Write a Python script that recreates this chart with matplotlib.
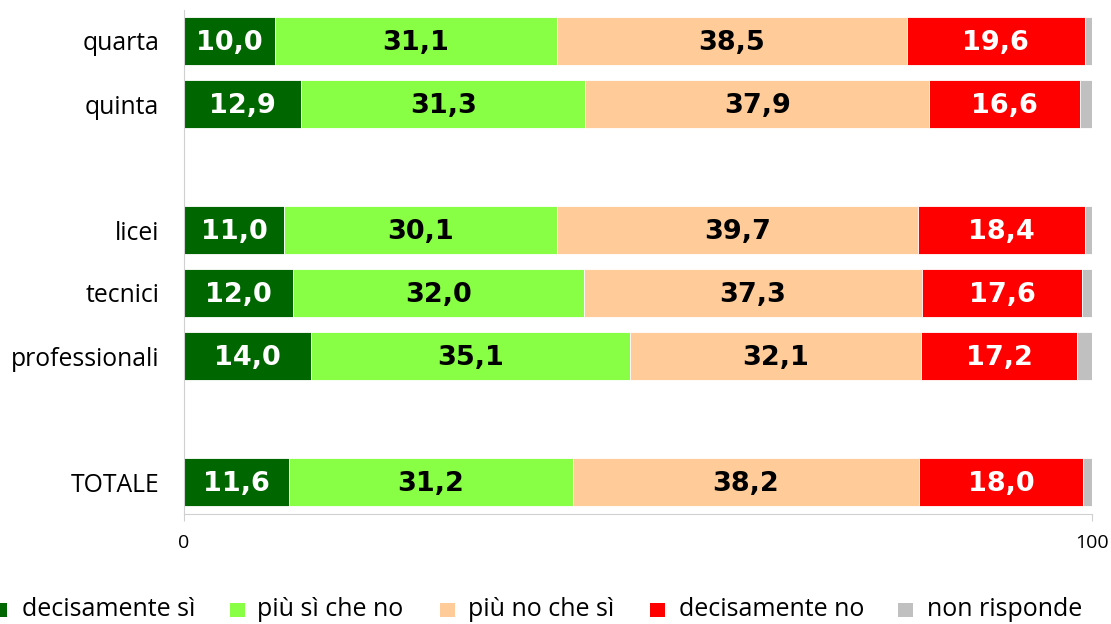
import matplotlib
matplotlib.use("Agg")
import matplotlib.pyplot as plt
from matplotlib.patches import Rectangle
from matplotlib.transforms import offset_copy

categories = ["quarta", "quinta", "", "licei", "tecnici", "professionali", "", "TOTALE"]
decisamente_si = [10.0, 12.9, None, 11.0, 12.0, 14.0, None, 11.6]
piu_si = [31.1, 31.3, None, 30.1, 32.0, 35.1, None, 31.2]
piu_no = [38.5, 37.9, None, 39.7, 37.3, 32.1, None, 38.2]
decisamente_no = [19.6, 16.6, None, 18.4, 17.6, 17.2, None, 18.0]
non_risponde = [0.8, 1.3, None, 0.8, 1.1, 1.6, None, 1.0]

series_names = ["decisamente sì", "più sì che no", "più no che sì", "decisamente no", "non risponde"]
series = [decisamente_si, piu_si, piu_no, decisamente_no, non_risponde]
colors = ["#006600", "#88FF44", "#FFCC99", "#FF0000", "#C0C0C0"]
label_colors = ["white", "black", "black", "white", None]
x_ticks = [0, 100]

plt.rcParams['font.family'] = ['Open Sans', 'DejaVu Sans']
W, H = 1111, 624
fig = plt.figure(figsize=(W/100, H/100), dpi=100)
ax = fig.add_axes([184/W, 1-513.5/H, (1092-184)/W, (513.5-9.5)/H])
label_tr = offset_copy(ax.transData, fig=fig, x=0, y=-1.5, units="points")

for i, cat in enumerate(categories):
    if series[0][i] is None:
        continue
    left = 0
    for s, (vals, col, lc) in enumerate(zip(series, colors, label_colors)):
        v = vals[i]
        ax.barh(i, v, left=left, height=0.76, color=col, edgecolor="white", linewidth=0.6)
        if lc is not None:
            ax.text(left + v/2, i, f"{v:.1f}".replace(".", ","), ha="center", va="center",
                    color=lc, fontsize=19.5, fontweight="bold", family="DejaVu Sans",
                    transform=label_tr)
        left += v

ax.set_xlim(0, 100)
ax.set_ylim(7.5, -0.5)
ax.set_yticks([i for i, c in enumerate(categories) if c])
ax.set_yticklabels([c for c in categories if c], fontsize=17.8)
ax.set_xticks(x_ticks)
ax.set_xticklabels([str(t) for t in x_ticks], fontsize=14)
ax.tick_params(axis="y", length=0, pad=18)
ax.tick_params(axis="x", length=5, color="#D0D0D0", pad=10)
for sp in ["top", "right"]:
    ax.spines[sp].set_visible(False)
ax.spines["left"].set_color("#D0D0D0")
ax.spines["bottom"].set_color("#D0D0D0")

# legend drawn manually to match spacing
marker_x = [-8, 230, 440, 650, 898]
text_x = [22, 257, 468, 679, 927]
ly = 609.5
for mx, tx, c, name in zip(marker_x, text_x, colors, series_names):
    fig.patches.append(Rectangle((mx/W, 1-(ly+7)/H), 15/W, 14/H, transform=fig.transFigure,
                                 facecolor=c, edgecolor="none"))
    fig.text(tx/W, 1-ly/H, name, ha="left", va="center", fontsize=18)

fig.savefig("out.png", dpi=100)
